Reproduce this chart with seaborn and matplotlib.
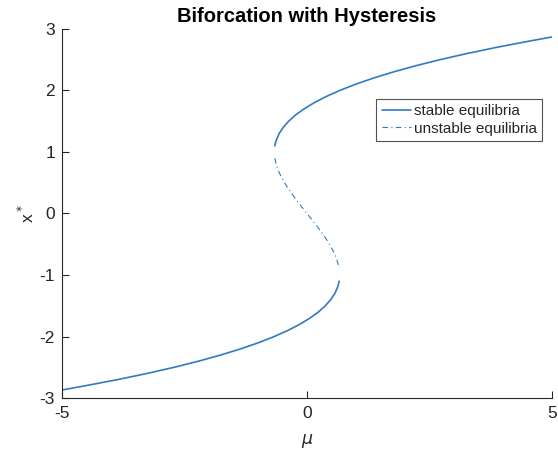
import matplotlib
matplotlib.use("Agg")
import matplotlib.pyplot as plt
import seaborn as sns
import pandas as pd

# Equilibrium branches: (mu, x*) points along each branch
upper_x = [1.10, 1.15, 1.20, 1.30, 1.40, 1.50, 1.60, 1.70, 1.80, 1.90, 2.00,
           2.10, 2.20, 2.30, 2.40, 2.50, 2.60, 2.70, 2.80, 2.87]
upper_mu = [-0.656, -0.643, -0.624, -0.568, -0.485, -0.375, -0.235, -0.062,
            0.144, 0.386, 0.667, 0.987, 1.349, 1.756, 2.208, 2.708, 3.259,
            3.861, 4.517, 5.00]

lower_x = [-2.87, -2.80, -2.70, -2.60, -2.50, -2.40, -2.30, -2.20, -2.10, -2.00,
           -1.90, -1.80, -1.70, -1.60, -1.50, -1.40, -1.30, -1.20, -1.15, -1.10]
lower_mu = [-5.00, -4.517, -3.861, -3.259, -2.708, -2.208, -1.756, -1.349,
            -0.987, -0.667, -0.386, -0.144, 0.062, 0.235, 0.375, 0.485, 0.568,
            0.624, 0.643, 0.656]

middle_x = [0.90, 0.80, 0.70, 0.60, 0.50, 0.40, 0.30, 0.20, 0.10, 0.00,
            -0.10, -0.20, -0.30, -0.40, -0.50, -0.60, -0.70, -0.80, -0.85]
middle_mu = [-0.657, -0.629, -0.586, -0.528, -0.458, -0.379, -0.291, -0.197,
             -0.100, 0.000, 0.100, 0.197, 0.291, 0.379, 0.458, 0.528, 0.586,
             0.629, 0.645]

x_ticks = [-5, 0, 5]
y_ticks = [-3, -2, -1, 0, 1, 2, 3]

sns.set_theme(style="ticks")
plt.rcParams["font.family"] = ["Liberation Sans", "DejaVu Sans"]
plt.rcParams["mathtext.fontset"] = "dejavusans"

color = "#2f7bbf"
ink = "#262626"

fig = plt.figure(figsize=(5.58, 4.53), dpi=100)
ax = fig.add_axes([0.1111, 0.1214, 0.8781, 0.8146])

upper = pd.DataFrame({"mu": upper_mu, "x": upper_x})
lower = pd.DataFrame({"mu": lower_mu, "x": lower_x})
middle = pd.DataFrame({"mu": middle_mu, "x": middle_x})

sns.lineplot(data=upper, x="mu", y="x", sort=False, color=color, lw=1.2,
             ax=ax, label="stable equilibria")
sns.lineplot(data=middle, x="mu", y="x", sort=False, color=color, lw=0.8,
             linestyle=(0, (5, 3, 1, 3)), ax=ax, label="unstable equilibria")
sns.lineplot(data=lower, x="mu", y="x", sort=False, color=color, lw=1.2,
             ax=ax, label="_nolegend_")

ax.set_xlim(-5, 5)
ax.set_ylim(-3, 3)
ax.set_xticks(x_ticks)
ax.set_yticks(y_ticks)
ax.set_xticklabels([str(t) for t in x_ticks])
ax.set_yticklabels([str(t) for t in y_ticks])
ax.tick_params(direction="in", length=5, width=0.8, colors=ink,
               labelsize=12.5, pad=5)
ax.tick_params(axis="x", pad=6)

for side in ("top", "right"):
    ax.spines[side].set_visible(False)
for side in ("left", "bottom"):
    ax.spines[side].set_color(ink)
    ax.spines[side].set_linewidth(0.8)

ax.set_title("Biforcation with Hysteresis", fontsize=14.5, fontweight="bold",
             color="black", pad=5)
ax.set_xlabel(r"$\mu$", fontsize=12.5, color=ink, labelpad=8)
ax.set_ylabel(r"x$^*$", fontsize=12.5, color=ink, labelpad=2)

leg = ax.legend(loc="upper right", bbox_to_anchor=(0.98, 0.81), fontsize=11,
                frameon=True, fancybox=False, handlelength=1.9,
                handletextpad=0.2, borderpad=0.35, labelspacing=0.2,
                borderaxespad=0)
leg.get_frame().set_edgecolor(ink)
leg.get_frame().set_linewidth(0.8)

fig.savefig("out.png", dpi=100)
